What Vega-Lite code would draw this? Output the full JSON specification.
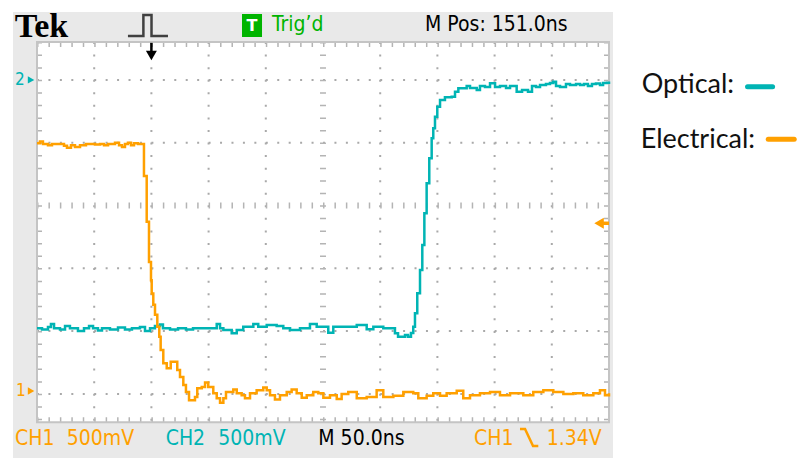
{
"$schema": "https://vega.github.io/schema/vega-lite/v6.json",
"width": 800, "height": 461, "padding": 0,
"autosize": {"type": "fit", "contains": "padding"},
"background": "#ffffff",
"config": {"view": {"stroke": null}},
"datasets": {
"traces": [
{"ch":"Optical","t":-100,"v":-1.955},{"ch":"Optical","t":-95.6,"v":-1.975},{"ch":"Optical","t":-90.4,"v":-1.935},{"ch":"Optical","t":-87.8,"v":-1.887},{"ch":"Optical","t":-85.1,"v":-1.955},{"ch":"Optical","t":-79.9,"v":-1.975},{"ch":"Optical","t":-75.5,"v":-1.919},{"ch":"Optical","t":-71.2,"v":-1.955},{"ch":"Optical","t":-64.2,"v":-1.998},{"ch":"Optical","t":-58.9,"v":-1.955},{"ch":"Optical","t":-54.5,"v":-1.919},{"ch":"Optical","t":-51.0,"v":-1.955},{"ch":"Optical","t":-46.7,"v":-1.99},{"ch":"Optical","t":-43.2,"v":-1.955},{"ch":"Optical","t":-36.2,"v":-1.975},{"ch":"Optical","t":-29.2,"v":-1.943},{"ch":"Optical","t":-23.1,"v":-1.975},{"ch":"Optical","t":-17.0,"v":-1.955},{"ch":"Optical","t":-10.0,"v":-1.935},{"ch":"Optical","t":-5.6,"v":-1.998},{"ch":"Optical","t":-1.2,"v":-1.955},{"ch":"Optical","t":3.1,"v":-1.919},{"ch":"Optical","t":7.5,"v":-1.895},{"ch":"Optical","t":10.1,"v":-1.955},{"ch":"Optical","t":16.3,"v":-1.975},{"ch":"Optical","t":23.3,"v":-1.955},{"ch":"Optical","t":30.2,"v":-1.975},{"ch":"Optical","t":36.4,"v":-1.955},{"ch":"Optical","t":42.5,"v":-1.955},{"ch":"Optical","t":57.1,"v":-1.887},{"ch":"Optical","t":60.0,"v":-1.955},{"ch":"Optical","t":62.9,"v":-1.982},{"ch":"Optical","t":70.2,"v":-2.035},{"ch":"Optical","t":74.6,"v":-1.982},{"ch":"Optical","t":80.3,"v":-1.93},{"ch":"Optical","t":89.1,"v":-1.887},{"ch":"Optical","t":93.4,"v":-1.93},{"ch":"Optical","t":100.8,"v":-1.903},{"ch":"Optical","t":109.5,"v":-1.919},{"ch":"Optical","t":115.3,"v":-1.955},{"ch":"Optical","t":121.2,"v":-1.982},{"ch":"Optical","t":129.9,"v":-1.955},{"ch":"Optical","t":138.6,"v":-1.887},{"ch":"Optical","t":144.5,"v":-1.93},{"ch":"Optical","t":154.6,"v":-2.025},{"ch":"Optical","t":159.0,"v":-1.93},{"ch":"Optical","t":173.6,"v":-1.93},{"ch":"Optical","t":179.5,"v":-1.903},{"ch":"Optical","t":188.2,"v":-1.971},{"ch":"Optical","t":194.0,"v":-1.93},{"ch":"Optical","t":202.7,"v":-1.955},{"ch":"Optical","t":212.9,"v":-2.035},{"ch":"Optical","t":215.6,"v":-2.089},{"ch":"Optical","t":221.7,"v":-2.062},{"ch":"Optical","t":224.3,"v":-2.089},{"ch":"Optical","t":226.9,"v":-2.03},{"ch":"Optical","t":228.9,"v":-1.93},{"ch":"Optical","t":230.4,"v":-1.717},{"ch":"Optical","t":232.4,"v":-1.398},{"ch":"Optical","t":234.8,"v":-1.027},{"ch":"Optical","t":236.8,"v":-0.629},{"ch":"Optical","t":238.6,"v":-0.124},{"ch":"Optical","t":240.6,"v":0.354},{"ch":"Optical","t":242.9,"v":0.752},{"ch":"Optical","t":245.0,"v":1.07},{"ch":"Optical","t":246.4,"v":1.229},{"ch":"Optical","t":247.9,"v":1.414},{"ch":"Optical","t":249.9,"v":1.573},{"ch":"Optical","t":252.3,"v":1.68},{"ch":"Optical","t":256.6,"v":1.723},{"ch":"Optical","t":262.5,"v":1.732},{"ch":"Optical","t":265.4,"v":1.812},{"ch":"Optical","t":268.3,"v":1.866},{"ch":"Optical","t":275.6,"v":1.903},{"ch":"Optical","t":278.5,"v":1.871},{"ch":"Optical","t":284.4,"v":1.839},{"ch":"Optical","t":287.2,"v":1.903},{"ch":"Optical","t":291.6,"v":1.887},{"ch":"Optical","t":296.0,"v":1.946},{"ch":"Optical","t":300.4,"v":1.887},{"ch":"Optical","t":304.7,"v":1.903},{"ch":"Optical","t":310.0,"v":1.871},{"ch":"Optical","t":313.5,"v":1.903},{"ch":"Optical","t":319.3,"v":1.812},{"ch":"Optical","t":324.0,"v":1.839},{"ch":"Optical","t":329.2,"v":1.812},{"ch":"Optical","t":332.7,"v":1.903},{"ch":"Optical","t":336.2,"v":1.887},{"ch":"Optical","t":339.7,"v":1.919},{"ch":"Optical","t":344.9,"v":1.935},{"ch":"Optical","t":348.4,"v":1.951},{"ch":"Optical","t":351.3,"v":1.971},{"ch":"Optical","t":353.7,"v":1.903},{"ch":"Optical","t":357.2,"v":1.887},{"ch":"Optical","t":362.4,"v":1.935},{"ch":"Optical","t":365.9,"v":1.919},{"ch":"Optical","t":371.2,"v":1.935},{"ch":"Optical","t":374.7,"v":1.919},{"ch":"Optical","t":378.1,"v":1.935},{"ch":"Optical","t":381.6,"v":1.903},{"ch":"Optical","t":385.1,"v":1.935},{"ch":"Optical","t":388.6,"v":1.943},{"ch":"Optical","t":392.1,"v":1.919},{"ch":"Optical","t":394.8,"v":1.951},{"ch":"Optical","t":398.3,"v":1.955},{"ch":"Optical","t":400,"v":1.935},
{"ch":"Electrical","t":-100,"v":0.99},{"ch":"Electrical","t":-97.4,"v":1.02},{"ch":"Electrical","t":-94.8,"v":0.98},{"ch":"Electrical","t":-90.4,"v":0.96},{"ch":"Electrical","t":-86.9,"v":0.98},{"ch":"Electrical","t":-76.4,"v":0.95},{"ch":"Electrical","t":-73.8,"v":0.92},{"ch":"Electrical","t":-70.3,"v":0.96},{"ch":"Electrical","t":-66.8,"v":0.93},{"ch":"Electrical","t":-62.4,"v":0.96},{"ch":"Electrical","t":-57.2,"v":0.98},{"ch":"Electrical","t":-49.3,"v":0.97},{"ch":"Electrical","t":-44.9,"v":0.98},{"ch":"Electrical","t":-41.4,"v":0.96},{"ch":"Electrical","t":-37.9,"v":0.98},{"ch":"Electrical","t":-31.8,"v":1.0},{"ch":"Electrical","t":-28.3,"v":0.96},{"ch":"Electrical","t":-25.7,"v":0.93},{"ch":"Electrical","t":-23.1,"v":0.98},{"ch":"Electrical","t":-20.5,"v":1.0},{"ch":"Electrical","t":-17.8,"v":0.96},{"ch":"Electrical","t":-15.2,"v":0.99},{"ch":"Electrical","t":-11.7,"v":0.98},{"ch":"Electrical","t":-6.5,"v":0.47},{"ch":"Electrical","t":-4.1,"v":-0.26},{"ch":"Electrical","t":-2.1,"v":-0.9},{"ch":"Electrical","t":-0.35,"v":-1.19},{"ch":"Electrical","t":0.26,"v":-1.4},{"ch":"Electrical","t":1.66,"v":-1.58},{"ch":"Electrical","t":3.15,"v":-1.74},{"ch":"Electrical","t":5.16,"v":-1.93},{"ch":"Electrical","t":6.9,"v":-2.09},{"ch":"Electrical","t":8.1,"v":-2.3},{"ch":"Electrical","t":10.4,"v":-2.51},{"ch":"Electrical","t":13.4,"v":-2.59},{"ch":"Electrical","t":16.9,"v":-2.49},{"ch":"Electrical","t":22.6,"v":-2.62},{"ch":"Electrical","t":25.0,"v":-2.73},{"ch":"Electrical","t":27.9,"v":-2.86},{"ch":"Electrical","t":30.2,"v":-2.97},{"ch":"Electrical","t":32.9,"v":-3.1},{"ch":"Electrical","t":38.1,"v":-3.05},{"ch":"Electrical","t":40.1,"v":-2.91},{"ch":"Electrical","t":44.0,"v":-2.89},{"ch":"Electrical","t":46.9,"v":-2.82},{"ch":"Electrical","t":49.7,"v":-2.89},{"ch":"Electrical","t":54.1,"v":-2.99},{"ch":"Electrical","t":57.1,"v":-3.07},{"ch":"Electrical","t":60.0,"v":-3.14},{"ch":"Electrical","t":62.9,"v":-3.07},{"ch":"Electrical","t":65.2,"v":-2.97},{"ch":"Electrical","t":71.6,"v":-2.93},{"ch":"Electrical","t":74.6,"v":-2.99},{"ch":"Electrical","t":78.9,"v":-3.02},{"ch":"Electrical","t":81.8,"v":-3.07},{"ch":"Electrical","t":86.2,"v":-2.99},{"ch":"Electrical","t":92.0,"v":-2.94},{"ch":"Electrical","t":97.8,"v":-2.9},{"ch":"Electrical","t":100.8,"v":-2.94},{"ch":"Electrical","t":103.7,"v":-3.02},{"ch":"Electrical","t":108.0,"v":-3.09},{"ch":"Electrical","t":112.4,"v":-3.02},{"ch":"Electrical","t":118.3,"v":-2.97},{"ch":"Electrical","t":122.6,"v":-2.93},{"ch":"Electrical","t":127.0,"v":-2.99},{"ch":"Electrical","t":131.4,"v":-3.06},{"ch":"Electrical","t":135.8,"v":-3.02},{"ch":"Electrical","t":141.5,"v":-2.97},{"ch":"Electrical","t":145.9,"v":-2.99},{"ch":"Electrical","t":150.3,"v":-3.06},{"ch":"Electrical","t":156.1,"v":-3.02},{"ch":"Electrical","t":162.0,"v":-3.08},{"ch":"Electrical","t":166.3,"v":-3.0},{"ch":"Electrical","t":172.1,"v":-2.97},{"ch":"Electrical","t":179.5,"v":-3.07},{"ch":"Electrical","t":188.2,"v":-3.05},{"ch":"Electrical","t":196.9,"v":-2.94},{"ch":"Electrical","t":202.7,"v":-3.05},{"ch":"Electrical","t":211.5,"v":-3.03},{"ch":"Electrical","t":220.2,"v":-2.97},{"ch":"Electrical","t":228.9,"v":-2.99},{"ch":"Electrical","t":233.3,"v":-3.07},{"ch":"Electrical","t":240.6,"v":-3.03},{"ch":"Electrical","t":246.4,"v":-2.99},{"ch":"Electrical","t":252.3,"v":-3.03},{"ch":"Electrical","t":258.1,"v":-2.99},{"ch":"Electrical","t":266.9,"v":-2.95},{"ch":"Electrical","t":272.6,"v":-3.07},{"ch":"Electrical","t":278.5,"v":-3.02},{"ch":"Electrical","t":287.2,"v":-2.99},{"ch":"Electrical","t":296.0,"v":-2.97},{"ch":"Electrical","t":304.7,"v":-3.02},{"ch":"Electrical","t":313.5,"v":-2.99},{"ch":"Electrical","t":325.1,"v":-3.02},{"ch":"Electrical","t":333.8,"v":-2.97},{"ch":"Electrical","t":342.6,"v":-2.94},{"ch":"Electrical","t":351.3,"v":-2.97},{"ch":"Electrical","t":360.1,"v":-3.0},{"ch":"Electrical","t":368.8,"v":-2.99},{"ch":"Electrical","t":377.5,"v":-3.02},{"ch":"Electrical","t":386.3,"v":-2.99},{"ch":"Electrical","t":392.1,"v":-2.94},{"ch":"Electrical","t":396.5,"v":-3.02},{"ch":"Electrical","t":400,"v":-2.99}
],
"gridRows": [{"v": 2}, {"v": 1}, {"v": -1}, {"v": -2}, {"v": -3}],
"gridCols": [{"t": -50}, {"t": 0}, {"t": 50}, {"t": 100}, {"t": 200}, {"t": 250}, {"t": 300}, {"t": 350}]
},
"layer": [
{"data": {"values": [{}]}, "mark": {"type": "rect", "color": "#e9e9e9"},
 "encoding": {"x": {"datum": -121.0, "type": "quantitative", "scale": {"domain": [-132.34, 566.96], "nice": false, "zero": false}, "axis": null}, "x2": {"datum": 403.5},
  "y": {"datum": 3.081, "type": "quantitative", "scale": {"domain": [-4.0685, 3.2723], "nice": false, "zero": false}, "axis": null}, "y2": {"datum": -4.021}}},
{"data": {"values": [{}]}, "mark": {"type": "rect", "color": "#ffffff"},
 "encoding": {"x": {"datum": -100, "type": "quantitative"}, "x2": {"datum": 400}, "y": {"datum": 2.603, "type": "quantitative"}, "y2": {"datum": -3.45}}},
{"data": {"name": "gridRows"}, "mark": {"type": "rule", "color": "#a9a9a9", "strokeWidth": 2, "strokeDash": [2, 9.44]},
 "encoding": {"x": {"datum": -100, "type": "quantitative"}, "x2": {"datum": 400}, "y": {"field": "v", "type": "quantitative"}}},
{"data": {"name": "gridCols"}, "mark": {"type": "rule", "color": "#a9a9a9", "strokeWidth": 2, "strokeDash": [2, 10.56]},
 "encoding": {"x": {"field": "t", "type": "quantitative"}, "y": {"datum": 2.603, "type": "quantitative"}, "y2": {"datum": -3.45}}},
{"data": {"values": [{}]}, "mark": {"type": "rule", "color": "#b4b4b4", "strokeWidth": 6, "strokeDash": [1.5, 9.94]},
 "encoding": {"x": {"datum": -100, "type": "quantitative"}, "x2": {"datum": 400}, "y": {"datum": 0, "type": "quantitative"}}},
{"data": {"values": [{}]}, "mark": {"type": "rule", "color": "#b4b4b4", "strokeWidth": 6, "strokeDash": [1.5, 11.06]},
 "encoding": {"x": {"datum": 150, "type": "quantitative"}, "y": {"datum": 2.603, "type": "quantitative"}, "y2": {"datum": -3.45}}},
{"data": {"values": [{}]}, "mark": {"type": "rule", "color": "#b4b4b4", "strokeWidth": 5, "strokeDash": [1.5, 9.94], "yOffset": 2.5},
 "encoding": {"x": {"datum": -100, "type": "quantitative"}, "x2": {"datum": 400}, "y": {"datum": 2.603, "type": "quantitative"}}},
{"data": {"values": [{}]}, "mark": {"type": "rule", "color": "#b4b4b4", "strokeWidth": 5, "strokeDash": [1.5, 9.94], "yOffset": -2.5},
 "encoding": {"x": {"datum": -100, "type": "quantitative"}, "x2": {"datum": 400}, "y": {"datum": -3.45, "type": "quantitative"}}},
{"data": {"values": [{}]}, "mark": {"type": "rule", "color": "#b4b4b4", "strokeWidth": 5, "strokeDash": [1.5, 11.06], "xOffset": 2.5},
 "encoding": {"x": {"datum": -100, "type": "quantitative"}, "y": {"datum": 2.603, "type": "quantitative"}, "y2": {"datum": -3.45}}},
{"data": {"values": [{}]}, "mark": {"type": "rule", "color": "#b4b4b4", "strokeWidth": 5, "strokeDash": [1.5, 11.06], "xOffset": -2.5},
 "encoding": {"x": {"datum": 400, "type": "quantitative"}, "y": {"datum": 2.603, "type": "quantitative"}, "y2": {"datum": -3.45}}},
{"data": {"values": [{}]}, "mark": {"type": "rect", "filled": false, "color": "#c4c4c4", "strokeWidth": 2},
 "encoding": {"x": {"datum": -100, "type": "quantitative"}, "x2": {"datum": 400}, "y": {"datum": 2.603, "type": "quantitative"}, "y2": {"datum": -3.45}}},
{"data": {"name": "traces"}, "mark": {"type": "line", "interpolate": "step-after", "strokeWidth": 2.5},
 "encoding": {"x": {"field": "t", "type": "quantitative"}, "y": {"field": "v", "type": "quantitative"},
  "color": {"field": "ch", "type": "nominal", "scale": {"domain": ["Optical", "Electrical"], "range": ["#00b4b4", "#ffa000"]}, "legend": null}}},
{"data": {"values": [{"i":1,"t":-20.5,"v":2.699},{"i":2,"t":-7.0,"v":2.699},{"i":3,"t":-7.0,"v":3.033},{"i":4,"t":0.1,"v":3.033},{"i":5,"t":0.1,"v":2.699},{"i":6,"t":14.5,"v":2.699}]},
 "mark": {"type": "line", "color": "#404040", "strokeWidth": 2.5},
 "encoding": {"x": {"field": "t", "type": "quantitative"}, "y": {"field": "v", "type": "quantitative"}, "order": {"field": "i"}}},
{"data": {"values": [{}]}, "mark": {"type": "rule", "color": "#000000", "strokeWidth": 2.5},
 "encoding": {"x": {"datum": 0, "type": "quantitative"}, "y": {"datum": 2.59, "type": "quantitative"}, "y2": {"datum": 2.43}}},
{"data": {"values": [{}]}, "mark": {"type": "point", "shape": "triangle-down", "filled": true, "color": "#000000", "size": 120, "opacity": 1},
 "encoding": {"x": {"datum": 0, "type": "quantitative"}, "y": {"datum": 2.389, "type": "quantitative"}}},
{"data": {"values": [{}]}, "mark": {"type": "rect", "color": "#00b400"},
 "encoding": {"x": {"datum": 79.2, "type": "quantitative"}, "x2": {"datum": 96.7}, "y": {"datum": 3.049, "type": "quantitative"}, "y2": {"datum": 2.683}}},
{"data": {"values": [{"label": "T", "t": 87.9, "v": 2.858}]}, "mark": {"type": "text", "color": "#ffffff", "font": "DejaVu Sans", "fontWeight": "bold", "fontSize": 16, "align": "center", "baseline": "middle"},
 "encoding": {"x": {"field": "t", "type": "quantitative"}, "y": {"field": "v", "type": "quantitative"}, "text": {"field": "label"}}},
{"data": {"values": [{"label": "Tek", "t": -119.5, "v": 2.688}]}, "mark": {"type": "text", "color": "#000000", "font": "Liberation Serif", "fontWeight": "bold", "fontSize": 34, "align": "left", "baseline": "alphabetic"},
 "encoding": {"x": {"field": "t", "type": "quantitative"}, "y": {"field": "v", "type": "quantitative"}, "text": {"field": "label"}}},
{"data": {"values": [{"label": "Trig’d", "t": 105.4, "v": 2.774}]}, "mark": {"type": "text", "color": "#00b400", "font": "DejaVu Sans Condensed, DejaVu Sans, sans-serif", "fontSize": 21, "align": "left", "baseline": "alphabetic"},
 "encoding": {"x": {"field": "t", "type": "quantitative"}, "y": {"field": "v", "type": "quantitative"}, "text": {"field": "label"}}},
{"data": {"values": [{"label": "M Pos: 151.0ns", "t": 239.2, "v": 2.774}, {"label": "M 50.0ns", "t": 145.9, "v": -3.817}]}, "mark": {"type": "text", "color": "#000000", "font": "DejaVu Sans Condensed, DejaVu Sans, sans-serif", "fontSize": 21, "align": "left", "baseline": "alphabetic"},
 "encoding": {"x": {"field": "t", "type": "quantitative"}, "y": {"field": "v", "type": "quantitative"}, "text": {"field": "label"}}},
{"data": {"values": [{"label": "CH1", "ch": "Electrical", "t": -119.2, "v": -3.817}, {"label": "500mV", "ch": "Electrical", "t": -74.0, "v": -3.817}, {"label": "CH2", "ch": "Optical", "t": 12.5, "v": -3.817}, {"label": "500mV", "ch": "Optical", "t": 58.5, "v": -3.817}, {"label": "CH1", "ch": "Electrical", "t": 282.0, "v": -3.817}, {"label": "1.34V", "ch": "Electrical", "t": 345.5, "v": -3.817}]},
 "mark": {"type": "text", "font": "DejaVu Sans Condensed, DejaVu Sans, sans-serif", "fontSize": 21, "align": "left", "baseline": "alphabetic"},
 "encoding": {"x": {"field": "t", "type": "quantitative"}, "y": {"field": "v", "type": "quantitative"}, "text": {"field": "label"}, "color": {"field": "ch", "type": "nominal", "legend": null}}},
{"data": {"values": [{"i":1,"t":322.2,"v":-3.559},{"i":2,"t":326.6,"v":-3.559},{"i":3,"t":333.6,"v":-3.83},{"i":4,"t":338.2,"v":-3.83}]},
 "mark": {"type": "line", "color": "#ffa000", "strokeWidth": 2.5},
 "encoding": {"x": {"field": "t", "type": "quantitative"}, "y": {"field": "v", "type": "quantitative"}, "order": {"field": "i"}}},
{"data": {"values": [{"label": "2", "ch": "Optical", "t": -119.2, "v": 2.0}, {"label": "1", "ch": "Electrical", "t": -118.4, "v": -2.954}]},
 "mark": {"type": "text", "font": "DejaVu Sans Condensed, DejaVu Sans, sans-serif", "fontSize": 17, "align": "left", "baseline": "middle"},
 "encoding": {"x": {"field": "t", "type": "quantitative"}, "y": {"field": "v", "type": "quantitative"}, "text": {"field": "label"}, "color": {"field": "ch", "type": "nominal", "legend": null}}},
{"data": {"values": [{"ch": "Optical", "t": -105.2, "v": 2.0}, {"ch": "Electrical", "t": -105.2, "v": -2.954}]},
 "mark": {"type": "point", "shape": "triangle-right", "filled": true, "size": 55, "opacity": 1},
 "encoding": {"x": {"field": "t", "type": "quantitative"}, "y": {"field": "v", "type": "quantitative"}, "color": {"field": "ch", "type": "nominal", "legend": null}}},
{"data": {"values": [{}]}, "mark": {"type": "rule", "color": "#ffa000", "strokeWidth": 3.5},
 "encoding": {"x": {"datum": 391.3, "type": "quantitative"}, "x2": {"datum": 400}, "y": {"datum": -0.283, "type": "quantitative"}}},
{"data": {"values": [{}]}, "mark": {"type": "point", "shape": "triangle-left", "filled": true, "color": "#ffa000", "size": 120, "opacity": 1},
 "encoding": {"x": {"datum": 391.3, "type": "quantitative"}, "y": {"datum": -0.283, "type": "quantitative"}}},
{"data": {"values": [{"ch": "Optical", "t0": 521.1, "t1": 543.0, "v": 1.892}, {"ch": "Electrical", "t0": 539.2, "t1": 561.9, "v": 1.054}]},
 "mark": {"type": "rule", "strokeWidth": 5, "strokeCap": "round"},
 "encoding": {"x": {"field": "t0", "type": "quantitative"}, "x2": {"field": "t1"}, "y": {"field": "v", "type": "quantitative"}, "color": {"field": "ch", "type": "nominal", "legend": null}}},
{"data": {"values": [{"label": "Optical:", "t": 428.6, "v": 1.787}, {"label": "Electrical:", "t": 427.7, "v": 0.911}]},
 "mark": {"type": "text", "color": "#111111", "font": "Lato", "fontSize": 27, "align": "left", "baseline": "alphabetic"},
 "encoding": {"x": {"field": "t", "type": "quantitative"}, "y": {"field": "v", "type": "quantitative"}, "text": {"field": "label"}}}
]
}
